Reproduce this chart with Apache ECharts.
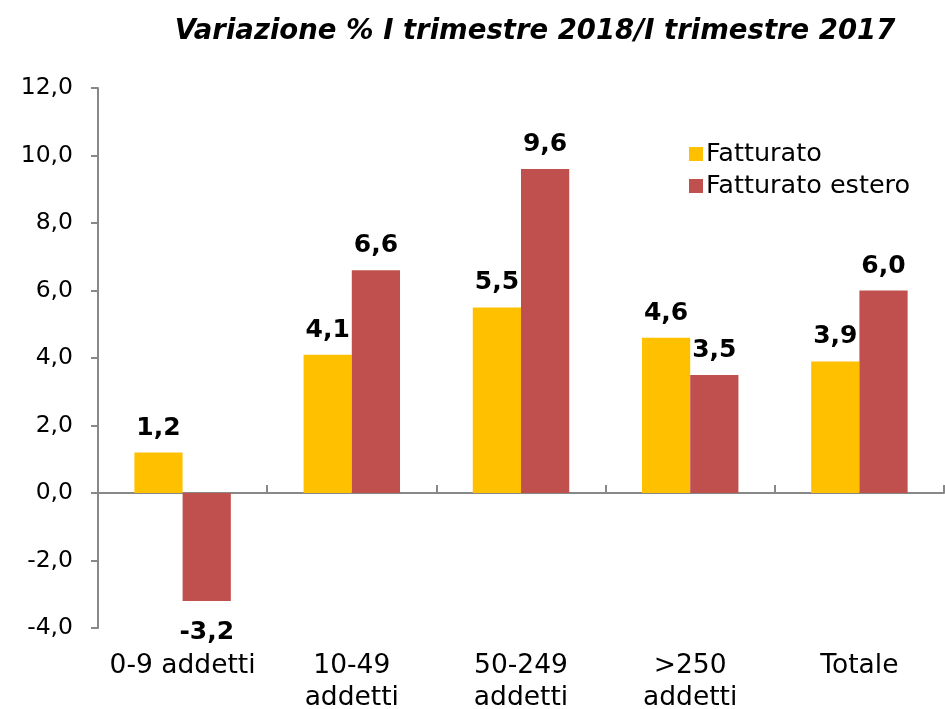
<!DOCTYPE html>
<html>
	<head>
		<meta charset="utf-8">
		<title>Variazione %</title>
		<style type="text/css">
			html, body { margin: 0; padding: 0; background: #fff; }
			#main { width: 945px; height: 709px; }
		</style>
	</head>
	<body>
		<div id="main"></div>
		<script src="https://cdn.jsdelivr.net/npm/echarts@6/dist/echarts.min.js"></script>
		<script type="text/javascript">
			var categorie = ['0-9 addetti', '10-49\naddetti', '50-249\naddetti', '>250\naddetti', 'Totale'];
			var fatturato = [1.2, 4.1, 5.5, 4.6, 3.9];
			var fatturatoEstero = [-3.2, 6.6, 9.6, 3.5, 6.0];

			var font = 'DejaVu Sans';

			function fmt(v) {
				return v.toFixed(1).replace('.', ',');
			}

			// le etichette dei valori negativi vanno sotto la barra
			function toData(arr) {
				return arr.map(function(v) {
					if (v < 0) {
						return { value: v, label: { position: 'bottom', distance: 19 } };
					}
					return v;
				});
			}

			var labelStyle = {
				show: true,
				position: 'top',
				distance: 12,
				fontFamily: font,
				fontWeight: 'bold',
				fontSize: 25,
				color: '#000',
				formatter: function(p) { return fmt(p.value); }
			};

			var myChart = echarts.init(document.getElementById('main'));

			var option = {
				animation: false,
				title: {
					text: 'Variazione % I trimestre 2018/I trimestre 2017',
					left: 530,
					textAlign: 'center',
					top: 13,
					textStyle: {
						fontFamily: font,
						fontStyle: 'italic',
						fontWeight: 'bold',
						fontSize: 27.5,
						color: '#000'
					}
				},
				legend: {
					orient: 'vertical',
					left: 684,
					top: 136,
					itemWidth: 14,
					itemHeight: 14,
					itemGap: 6,
					icon: 'rect',
					textStyle: { fontFamily: font, fontSize: 25.5, color: '#000', padding: [0, 0, 0, -2] },
					data: ['Fatturato', 'Fatturato estero']
				},
				grid: {
					left: 98,
					right: 1,
					top: 88,
					bottom: 81,
					outerBoundsMode: 'none'
				},
				xAxis: [{
					type: 'category',
					data: categorie,
					axisLine: { show: false, onZero: false },
					axisTick: { show: false },
					axisLabel: {
						interval: 0,
						margin: 22,
						fontFamily: font,
						fontSize: 26.5,
						lineHeight: 32,
						color: '#000'
					}
				}, {
					type: 'category',
					data: categorie,
					axisLine: { show: true, onZero: true, onZeroAxisIndex: 0, lineStyle: { color: '#888', width: 2 } },
					axisTick: { show: true, length: 8, lineStyle: { color: '#888', width: 2 } },
					axisLabel: { show: false }
				}],
				yAxis: {
					type: 'value',
					min: -4,
					max: 12,
					interval: 2,
					splitLine: { show: false },
					axisLine: { show: true, lineStyle: { color: '#888', width: 2 } },
					axisTick: { show: true, inside: false, length: 7, lineStyle: { color: '#888', width: 2 } },
					axisLabel: {
						margin: 25,
						fontFamily: font,
						fontSize: 23.5,
						color: '#000',
						formatter: function(v) { return fmt(v); }
					}
				},
				series: [{
					name: 'Fatturato',
					type: 'bar',
					xAxisIndex: 0,
					barGap: '0%',
					barCategoryGap: '43%',
					itemStyle: { color: '#FFC000' },
					label: labelStyle,
					data: toData(fatturato)
				}, {
					name: 'Fatturato estero',
					type: 'bar',
					xAxisIndex: 0,
					itemStyle: { color: '#C0504D' },
					label: labelStyle,
					data: toData(fatturatoEstero)
				}]
			};
			myChart.setOption(option);
		</script>
	</body>
</html>
